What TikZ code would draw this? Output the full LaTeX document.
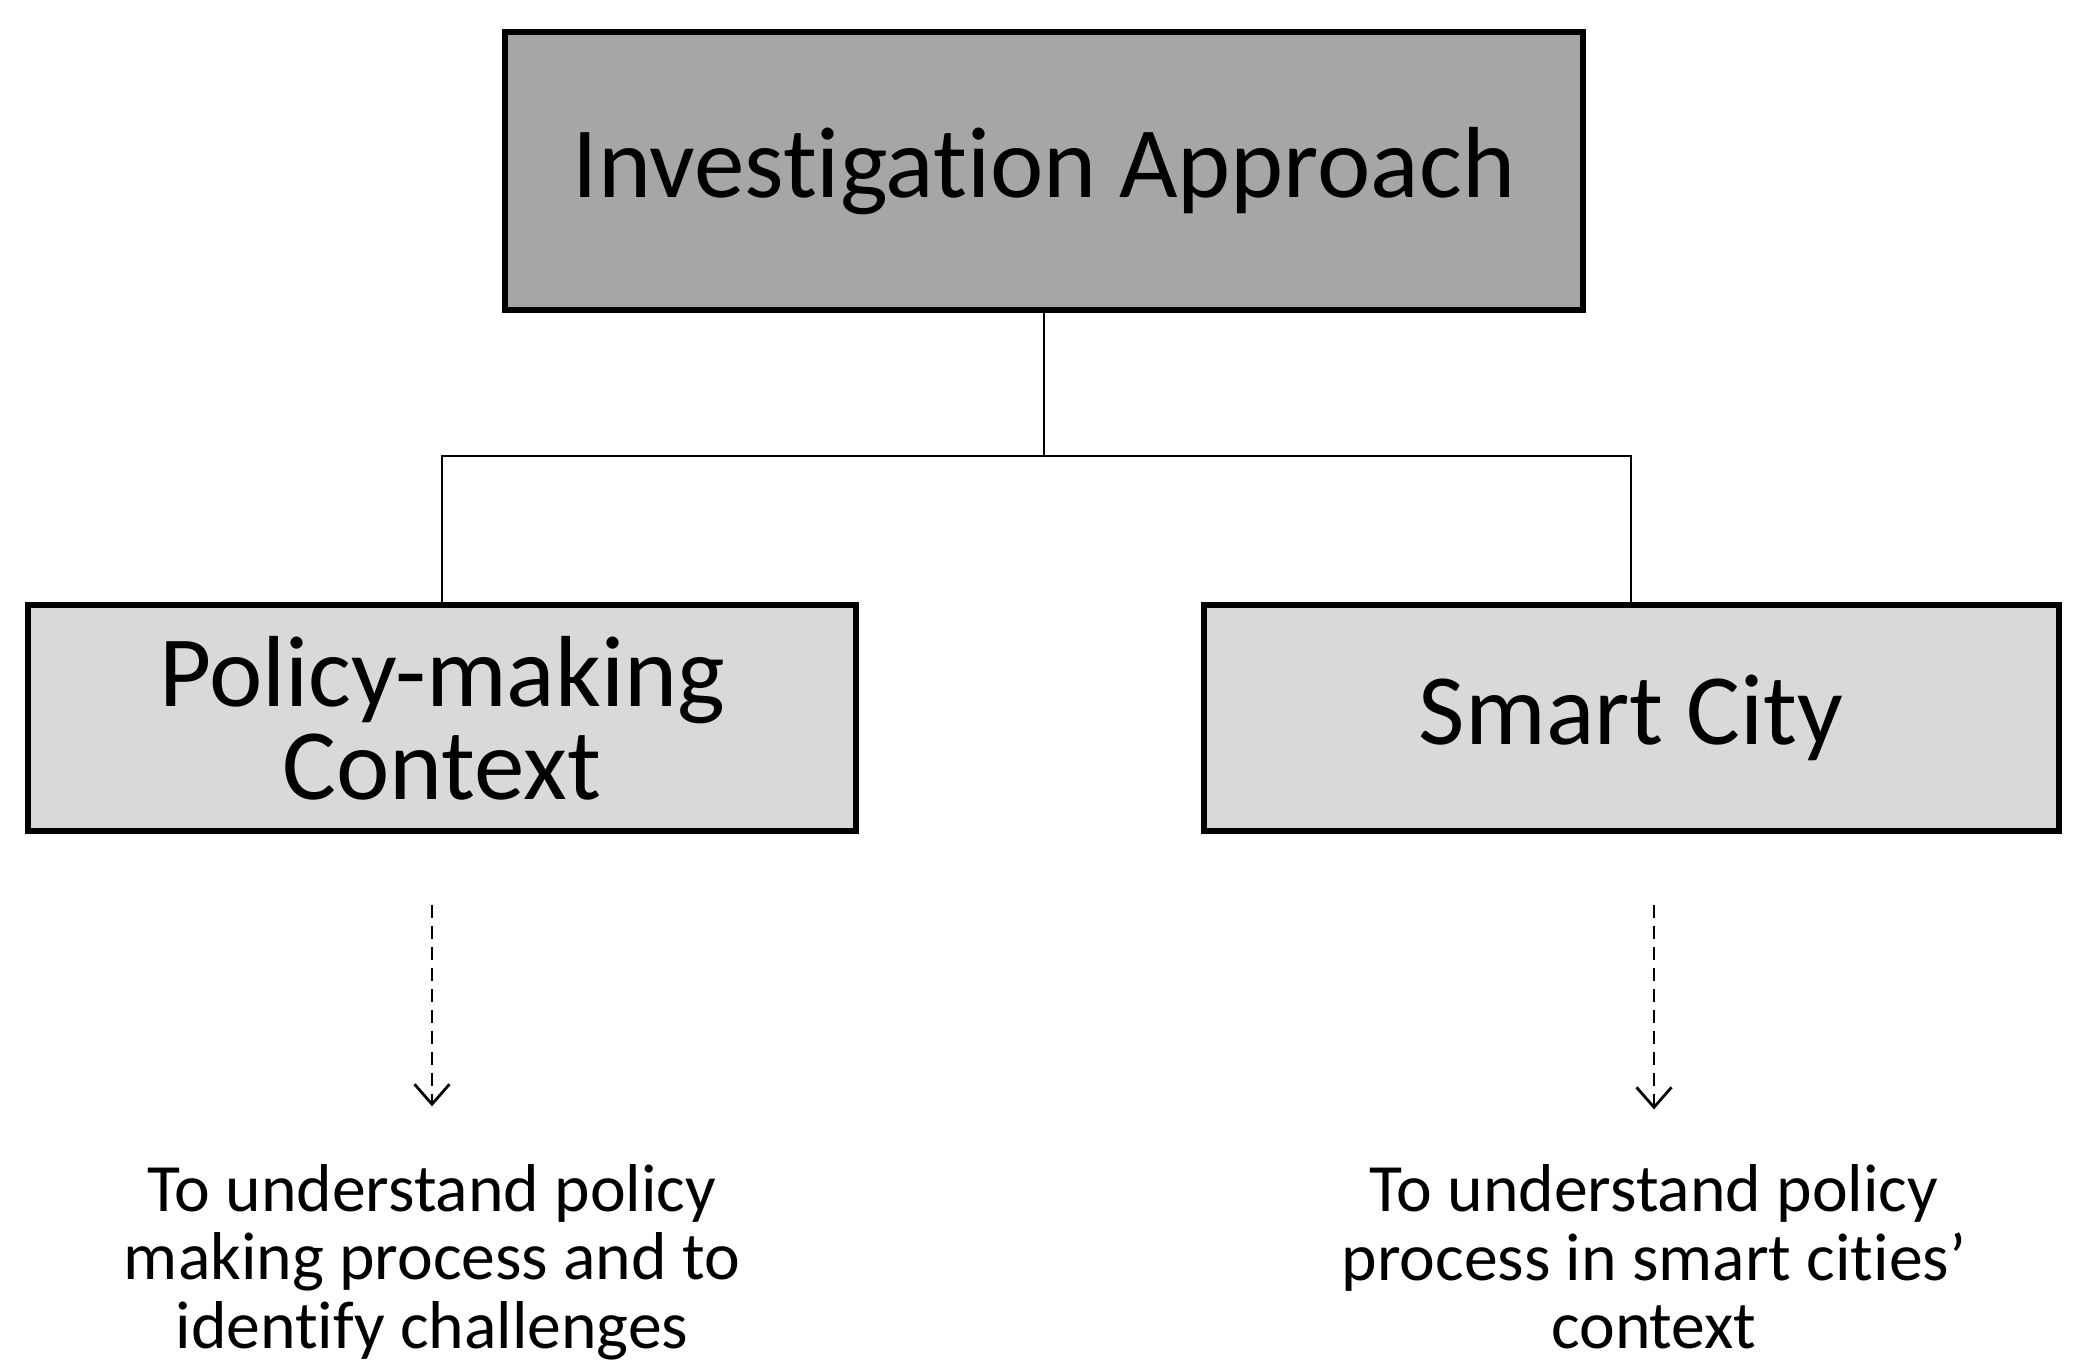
\documentclass[tikz,border=0pt]{standalone}
\usepackage{fontspec}
\setmainfont{Carlito}[Ligatures={NoCommon, NoRare, NoContextual}]
\usetikzlibrary{positioning, arrows.meta}
\definecolor{topgray}{HTML}{A6A6A6}
\definecolor{subgray}{HTML}{D9D9D9}

\begin{document}
\begin{tikzpicture}[
        x=0.2mm, y=-0.2mm,
        link/.style={line width=0.55mm},
        box/.style={draw, line width=1.2mm, align=center, inner sep=0pt,
                    font=\fontsize{57.5}{53}\selectfont},
        goal/.style={align=center, inner sep=0pt, font=\fontsize{38.5}{39}\selectfont},
        hint/.style={-{Straight Barb[length=4mm, width=7mm]}, line width=0.55mm,
                     dash pattern=on 2.6mm off 1.6mm}
    ]

    \useasboundingbox (0,0) rectangle (2086,1372);

    \node[box, fill=topgray, minimum width=215.6mm, minimum height=55.6mm] (approach) at (1044,171) {Investigation Approach};
    \node[box, fill=subgray, minimum width=165.6mm, minimum height=45mm] (policy) at (442,718) {Policy-making\\Context};
    \node[box, fill=subgray, minimum width=171mm, minimum height=45mm] (smart) at (1631,718) {Smart City};

    \node[goal] (goalpolicy) at (432,1262) {To understand policy\\making process and to\\identify challenges};
    \node[goal] (goalsmart) at (1654,1257) {To understand policy\\process in smart cities’\\context};

    \coordinate (split) at (1044,456);
    \draw[link] (approach.south) -- (split) -| (policy.north);
    \draw[link] (split) -| (smart.north);

    \draw[hint, shorten <=14.2mm, shorten >=11.5mm] (policy.south -| goalpolicy.north) -- (goalpolicy.north);
    \draw[hint, shorten <=14.2mm, shorten >=11mm] (smart.south -| goalsmart.north) -- (goalsmart.north);

\end{tikzpicture}
\end{document}
